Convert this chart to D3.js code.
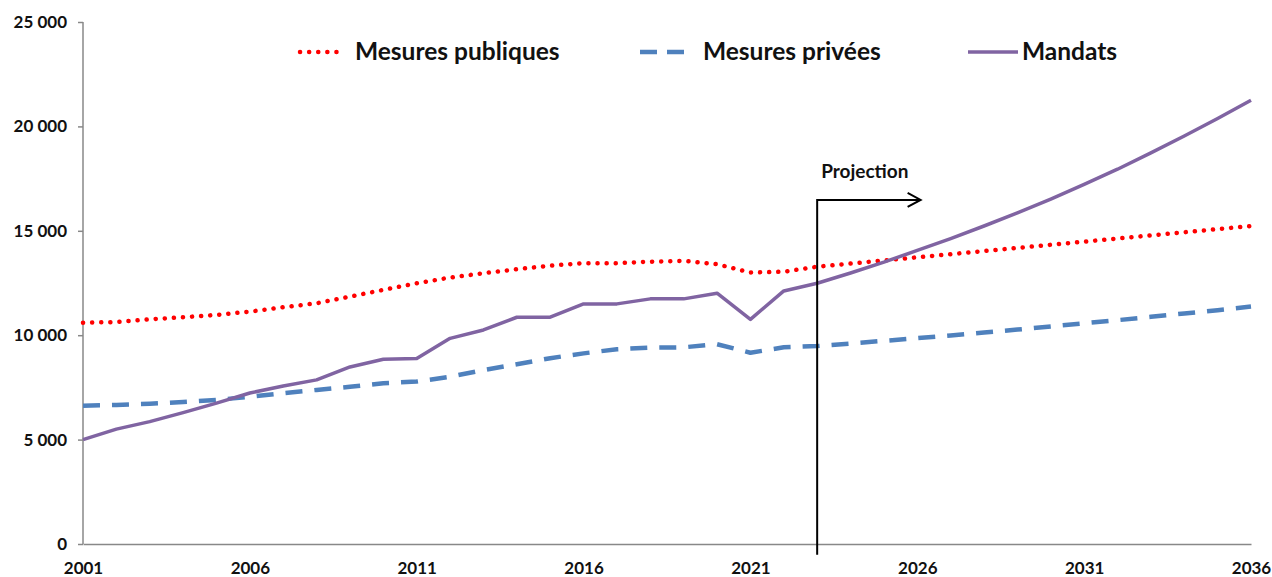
<!DOCTYPE html>
<html>
<head>
<meta charset="utf-8">
<script src="https://cdn.jsdelivr.net/npm/d3@7"></script>
<style>
  body { margin: 0; background: #fff; }
  text { font-family: Lato, "Open Sans", sans-serif; font-weight: bold; }
</style>
</head>
<body>
<div id="chart"></div>
<script>
// values
const years = d3.range(2001, 2037)
const mesuresPubliques = [10600, 10630, 10760, 10860, 10970, 11130, 11340, 11530, 11850, 12170,
  12490, 12760, 12970, 13160, 13330, 13450, 13450, 13520, 13560, 13400,
  13000, 13040, 13280, 13430, 13580, 13730, 13880, 14030, 14180, 14330,
  14480, 14630, 14780, 14930, 15080, 15230]
const mesuresPrivees = [6620, 6660, 6720, 6800, 6900, 7050, 7220, 7380, 7530, 7700,
  7780, 8010, 8330, 8610, 8900, 9130, 9330, 9400, 9420, 9570,
  9160, 9420, 9480, 9600, 9730, 9860, 9990, 10130, 10270, 10420,
  10570, 10720, 10880, 11040, 11200, 11370]
const mandats = [5000, 5500, 5860, 6290, 6750, 7230, 7570, 7860, 8480, 8850,
  8880, 9850, 10250, 10860, 10860, 11500, 11500, 11740, 11740, 12010,
  10760, 12120, 12490, 12980, 13500, 14060, 14630, 15230, 15860, 16520,
  17220, 17950, 18730, 19540, 20380, 21250]
const yTicks = [0, 5000, 10000, 15000, 20000, 25000]
const xTicks = [2001, 2006, 2011, 2016, 2021, 2026, 2031, 2036]
const seriesNames = ['Mesures publiques', 'Mesures privées', 'Mandats']
const projectionYear = 2023
const projectionTop = 16480
const projectionBottom = -520
const projectionArrowEnd = 2026.1

const width = 1272
const height = 577
const margins = { top: 22, right: 21, bottom: 33, left: 83 }

const svg = d3.select('#chart').append('svg')
  .attr('width', width)
  .attr('height', height)

const xScale = d3.scaleLinear()
  .domain([2001, 2036])
  .range([margins.left, width - margins.right])
const yScale = d3.scaleLinear()
  .domain([0, 25000])
  .range([height - margins.bottom, margins.top])

// axes
const yAxis = svg.append('g')
  .attr('transform', 'translate(' + margins.left + ',0)')
  .call(d3.axisLeft(yScale).tickValues(yTicks).tickSize(5).tickPadding(11)
    .tickFormat(d => d3.format(',')(d).replace(',', ' ')))
const xAxis = svg.append('g')
  .attr('transform', 'translate(0,' + (height - margins.bottom) + ')')
  .call(d3.axisBottom(xScale).tickValues(xTicks).tickSize(0).tickPadding(18).tickFormat(d3.format('d')))

svg.selectAll('.domain').attr('stroke', '#888').attr('stroke-width', 1.5)
svg.selectAll('.tick line').attr('stroke', '#888').attr('stroke-width', 1.5)
svg.selectAll('.tick text').attr('fill', '#111').style('font-size', '17px')
yAxis.select('.domain').attr('d', 'M0,' + yScale(25000) + 'V' + yScale(0))

const styles = [
  { color: '#ff0000', width: 4.5, dash: '0.1 9', cap: 'round' },
  { color: '#4f81bd', width: 4.5, dash: '17 12', cap: 'butt' },
  { color: '#8064a2', width: 3.5, dash: null, cap: 'butt' }
]
const data = [mesuresPubliques, mesuresPrivees, mandats]

const line = d3.line()
  .x((d, i) => xScale(years[i]))
  .y(d => yScale(d))

data.forEach((values, i) => {
  svg.append('path')
    .datum(values)
    .attr('d', line)
    .attr('fill', 'none')
    .attr('stroke', styles[i].color)
    .attr('stroke-width', styles[i].width)
    .attr('stroke-linecap', styles[i].cap)
    .attr('stroke-linejoin', 'round')
    .attr('stroke-dasharray', styles[i].dash)
})

// projection marker
const px = xScale(projectionYear)
const py = yScale(projectionTop)
const ax = xScale(projectionArrowEnd)
svg.append('path')
  .attr('d', 'M' + px + ',' + yScale(projectionBottom) + 'V' + py + 'H' + ax)
  .attr('fill', 'none').attr('stroke', '#000').attr('stroke-width', 2)
svg.append('path')
  .attr('d', 'M' + (ax - 13) + ',' + (py - 7) + 'L' + ax + ',' + py + 'L' + (ax - 13) + ',' + (py + 7))
  .attr('fill', 'none').attr('stroke', '#000').attr('stroke-width', 2)
svg.append('text')
  .attr('x', px + 4)
  .attr('y', py - 22)
  .style('font-size', '19px')
  .attr('fill', '#111')
  .text('Projection')

// legend
const legendX = [300, 640, 968]
const legend = svg.append('g')
seriesNames.forEach((name, i) => {
  const g = legend.append('g').attr('transform', 'translate(' + legendX[i] + ',52)')
  g.append('line')
    .attr('x1', 0).attr('x2', i == 0 ? 45 : 50)
    .attr('y1', 0).attr('y2', 0)
    .attr('stroke', styles[i].color)
    .attr('stroke-width', styles[i].width)
    .attr('stroke-linecap', styles[i].cap)
    .attr('stroke-dasharray', i == 1 ? '17 10' : styles[i].dash)
  g.append('text')
    .attr('x', i == 0 ? 55 : (i == 1 ? 63 : 54))
    .attr('y', 8)
    .style('font-size', '24.5px')
    .attr('fill', '#111')
    .text(name)
})
</script>
</body>
</html>
